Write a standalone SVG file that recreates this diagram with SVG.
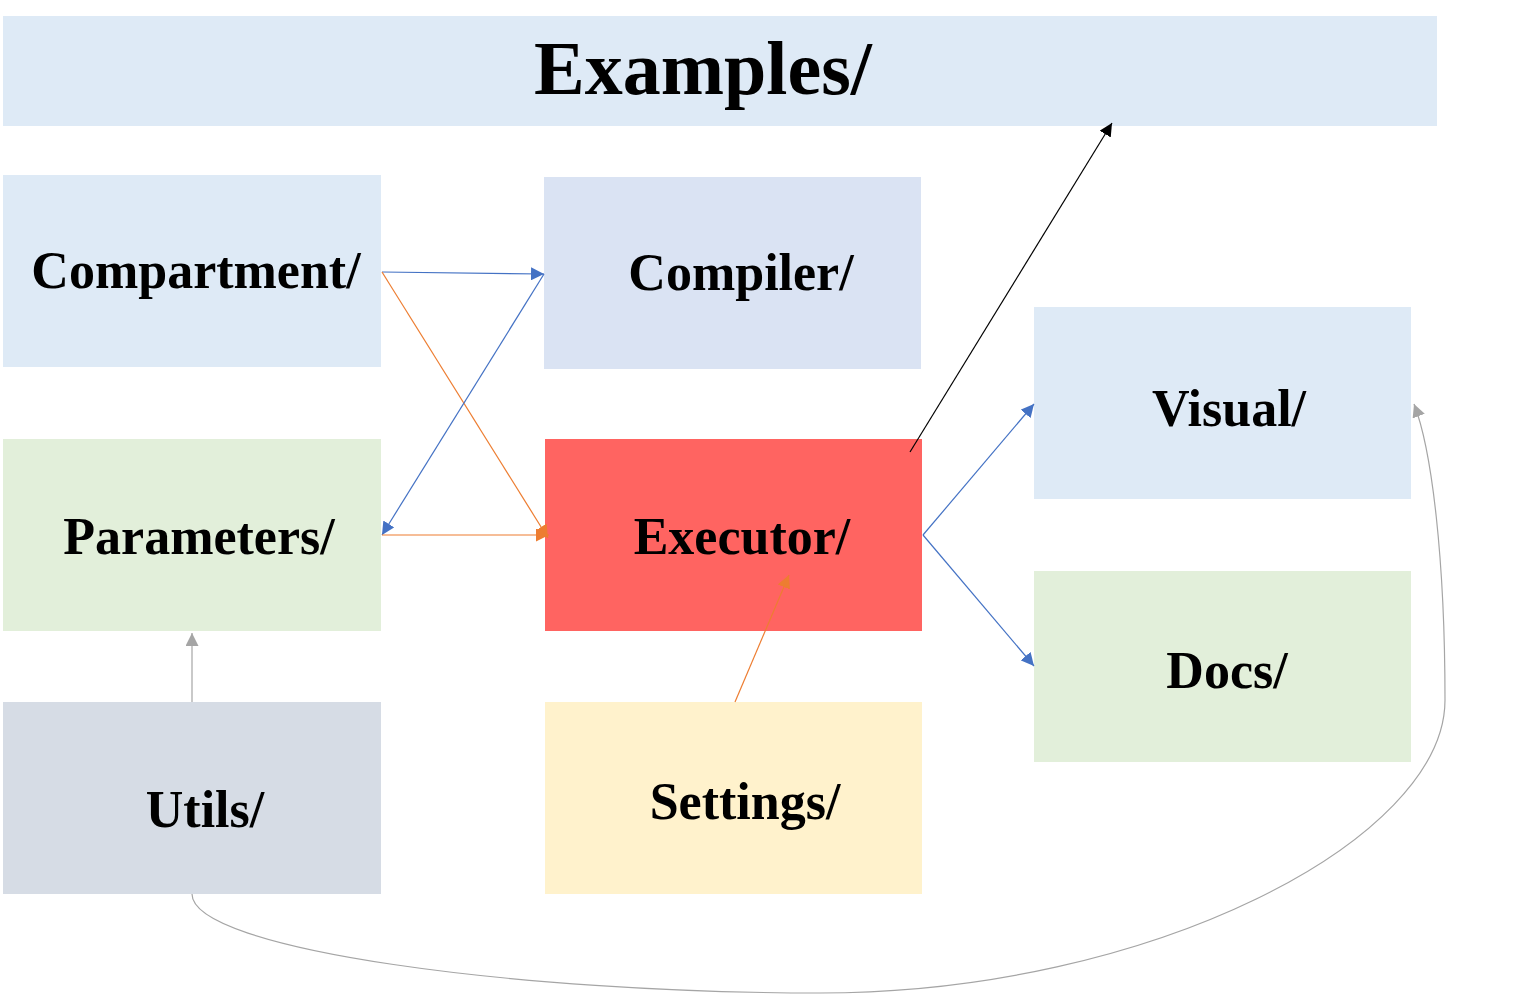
<svg xmlns="http://www.w3.org/2000/svg" width="1525" height="994" viewBox="0 0 1525 994">
  <style>
    .lbl { font-family: "Liberation Serif", "DejaVu Serif", serif; font-weight: bold; font-size: 52px; fill: #000; text-anchor: middle; }
    .title { font-size: 76px; }
    .edge { fill: none; stroke-width: 1.2; }
    .blue { stroke: #4472C4; }
    .orange { stroke: #ED7D31; }
    .gray { stroke: #A5A5A5; }
    .black { stroke: #000; }
  </style>
  <defs>
    <marker id="ah-blue" viewBox="0 0 10 10" refX="10" refY="5" markerWidth="13" markerHeight="13" markerUnits="userSpaceOnUse" orient="auto">
      <path d="M0,0 L10,5 L0,10 z" fill="#4472C4"/>
    </marker>
    <marker id="ah-orange" viewBox="0 0 10 10" refX="10" refY="5" markerWidth="13" markerHeight="13" markerUnits="userSpaceOnUse" orient="auto">
      <path d="M0,0 L10,5 L0,10 z" fill="#ED7D31"/>
    </marker>
    <marker id="ah-gray" viewBox="0 0 10 10" refX="10" refY="5" markerWidth="13" markerHeight="13" markerUnits="userSpaceOnUse" orient="auto">
      <path d="M0,0 L10,5 L0,10 z" fill="#A5A5A5"/>
    </marker>
    <marker id="ah-black" viewBox="0 0 10 10" refX="10" refY="5" markerWidth="13" markerHeight="13" markerUnits="userSpaceOnUse" orient="auto">
      <path d="M0,0 L10,5 L0,10 z" fill="#000"/>
    </marker>
  </defs>

  <rect width="1525" height="994" fill="#fff"/>

  <g id="examples">
    <rect x="3" y="16" width="1434" height="110" fill="#DEEAF6"/>
    <text class="lbl title" x="703" y="94">Examples/</text>
  </g>
  <g id="compartment">
    <rect x="3" y="175" width="378" height="192" fill="#DEEAF6"/>
    <text class="lbl" x="196" y="288">Compartment/</text>
  </g>
  <g id="compiler">
    <rect x="544" y="177" width="377" height="192" fill="#DAE3F3"/>
    <text class="lbl" x="741" y="290">Compiler/</text>
  </g>
  <g id="parameters">
    <rect x="3" y="439" width="378" height="192" fill="#E2EFDA"/>
    <text class="lbl" x="199" y="554">Parameters/</text>
  </g>
  <g id="executor">
    <rect x="545" y="439" width="377" height="192" fill="#FF6461"/>
    <text class="lbl" x="742" y="554">Executor/</text>
  </g>
  <g id="utils">
    <rect x="3" y="702" width="378" height="192" fill="#D6DCE5"/>
    <text class="lbl" x="205" y="827">Utils/</text>
  </g>
  <g id="settings">
    <rect x="545" y="702" width="377" height="192" fill="#FFF2CC"/>
    <text class="lbl" x="745" y="819">Settings/</text>
  </g>
  <g id="visual">
    <rect x="1034" y="307" width="377" height="192" fill="#DEEAF6"/>
    <text class="lbl" x="1229" y="426">Visual/</text>
  </g>
  <g id="docs">
    <rect x="1034" y="571" width="377" height="191" fill="#E2EFDA"/>
    <text class="lbl" x="1227" y="688">Docs/</text>
  </g>

  <g id="connectors">
    <line class="edge blue" x1="382" y1="272" x2="544" y2="274" marker-end="url(#ah-blue)"/>
    <line class="edge orange" x1="382" y1="272" x2="548" y2="538" marker-end="url(#ah-orange)"/>
    <line class="edge blue" x1="544" y1="274" x2="382" y2="535" marker-end="url(#ah-blue)"/>
    <line class="edge orange" x1="382" y1="535" x2="549" y2="535" marker-end="url(#ah-orange)"/>
    <line class="edge black" x1="910" y1="452" x2="1112" y2="123" marker-end="url(#ah-black)"/>
    <line class="edge blue" x1="923" y1="535" x2="1034" y2="404" marker-end="url(#ah-blue)"/>
    <line class="edge blue" x1="923" y1="535" x2="1034" y2="666" marker-end="url(#ah-blue)"/>
    <line class="edge gray" x1="192" y1="702" x2="192" y2="633" marker-end="url(#ah-gray)"/>
    <line class="edge orange" x1="735" y1="702" x2="789" y2="575" marker-end="url(#ah-orange)"/>
    <path class="edge gray" d="M192,894 C192,950 520,993 820,993 C1150,993 1445,840 1445,700 C1445,560 1432,450 1414,404" marker-end="url(#ah-gray)"/>
  </g>
</svg>
